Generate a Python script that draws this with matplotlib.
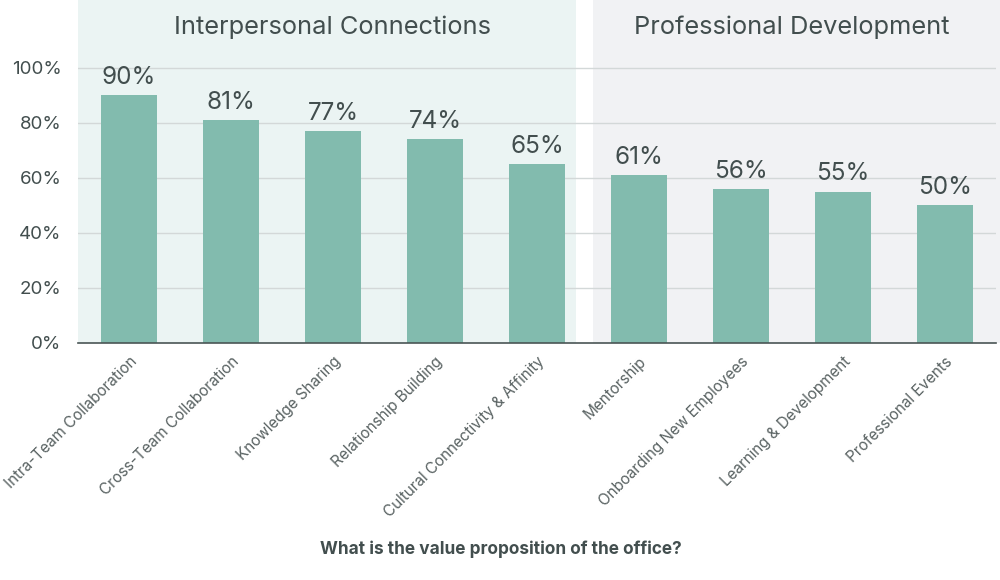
import numpy as np
import matplotlib.pyplot as plt
from matplotlib.patches import Rectangle

categories = ['Intra-Team Collaboration', 'Cross-Team Collaboration', 'Knowledge Sharing',
              'Relationship Building', 'Cultural Connectivity & Affinity', 'Mentorship',
              'Onboarding New Employees', 'Learning & Development', 'Professional Events']
values = [90, 81, 77, 74, 65, 61, 56, 55, 50]
groups = ['Interpersonal Connections', 'Professional Development']
group_sizes = [5, 4]

bar_color = '#82BBAE'
text_color = '#424E4E'
panel_colors = ['#EBF4F3', '#F1F2F4']

plt.rcParams['font.family'] = ['Inter', 'DejaVu Sans']

fig = plt.figure(figsize=(10, 5.8), dpi=100)
ax = fig.add_axes([0.078, 0.409, 0.918, 0.591])

x = np.arange(len(categories))
ax.set_xlim(-0.5, 8.5)
ax.set_ylim(0, 124.7)

# background panels for the two groups
ax.add_patch(Rectangle((-0.5, 0), 4.88, 124.7, color=panel_colors[0], zorder=0, lw=0))
ax.add_patch(Rectangle((4.55, 0), 4.0, 124.7, color=panel_colors[1], zorder=0, lw=0,
                       clip_on=False))

for yv in [20, 40, 60, 80, 100]:
    ax.axhline(yv, color='#D3D8D8', lw=1, zorder=1)

ax.bar(x, values, width=0.54, color=bar_color, zorder=2)
for xi, v in zip(x, values):
    ax.text(xi, v + 2.3, f'{v}%', ha='center', va='bottom', fontsize=17.5, color=text_color)

# group titles
ax.text(2.0, 114.9, groups[0], ha='center', va='center', fontsize=18.3, color=text_color)
ax.text(6.5, 114.9, groups[1], ha='center', va='center', fontsize=18.3, color=text_color)

ax.set_yticks([0, 20, 40, 60, 80, 100])
ax.set_yticklabels([f'{t}%' for t in [0, 20, 40, 60, 80, 100]], fontsize=13.5, color=text_color)
ax.set_xticks(x)
ax.set_xticklabels(categories, rotation=45, ha='right', va='top', rotation_mode='anchor',
                   fontsize=11, color='#5A6363')
ax.tick_params(axis='both', length=0)
ax.tick_params(axis='x', pad=8)
ax.tick_params(axis='y', pad=12)

for s in ['top', 'right', 'left']:
    ax.spines[s].set_visible(False)
ax.spines['bottom'].set_color('#4A5555')
ax.spines['bottom'].set_linewidth(1.2)
ax.spines['bottom'].set_zorder(3)

fig.text(0.501, 0.053, 'What is the value proposition of the office?', ha='center', va='center',
         fontsize=12.4, fontweight='bold', color=text_color)

fig.savefig('out.png', dpi=100)
